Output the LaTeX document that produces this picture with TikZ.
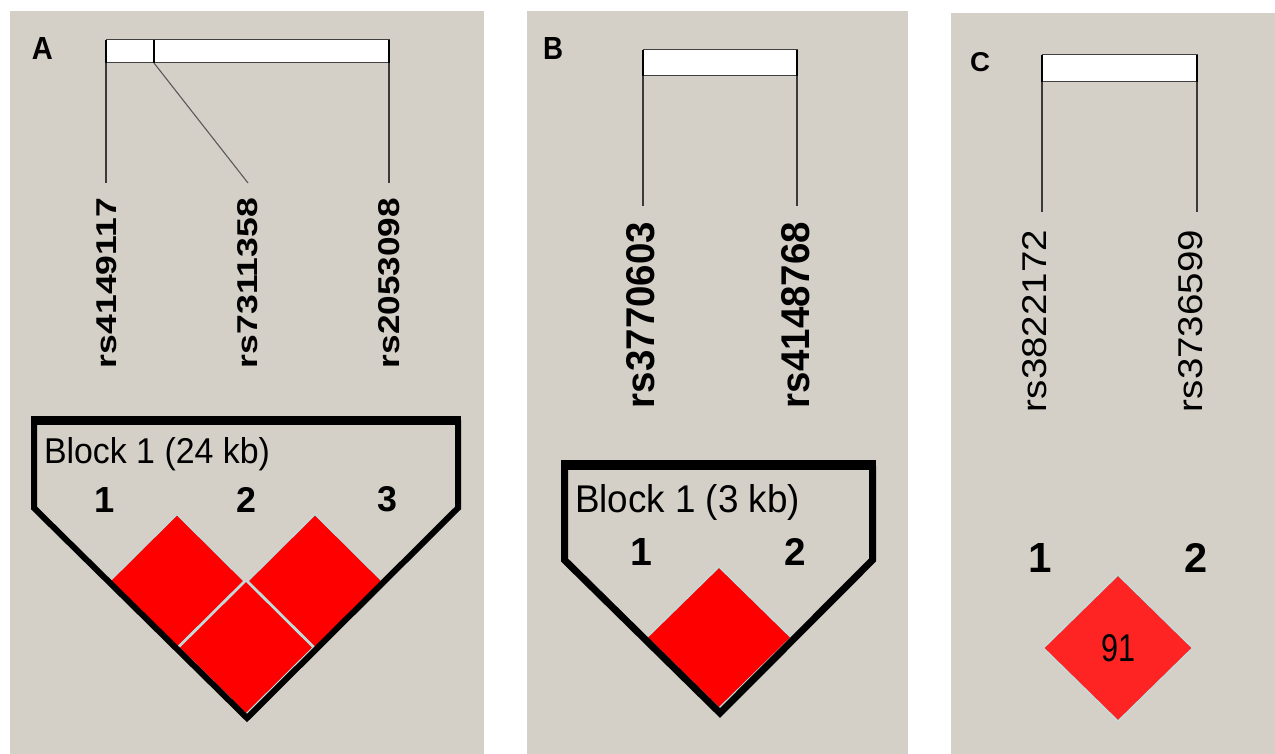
\documentclass[tikz,border=0pt]{standalone}
\usepackage{fontspec}
\setmainfont{Liberation Sans}
\usepackage{graphicx}
\usetikzlibrary{shapes.geometric}

\definecolor{panel}{HTML}{D4D0C8}
\definecolor{sepcol}{HTML}{B8E6E6}
\definecolor{ldred}{HTML}{FF0000}
\definecolor{ldredC}{HTML}{FF2424}
\definecolor{tickcol}{HTML}{3A3A3A}

\newcommand{\fitbox}[3]{\resizebox{#1pt}{#2pt}{#3}}
\newcommand{\fith}[2]{\resizebox{!}{#1pt}{#2}}

\tikzset{
  panelbg/.style={fill=panel, draw=none},
  lbl/.style={inner sep=0pt, outer sep=0pt},
  snp/.style={lbl, rotate=90},
  tick/.style={draw=tickcol, line width=1.2pt},
  slant/.style={draw=black!65, line width=1.1pt},
  barbox/.style={fill=white, draw=black!75, line width=1pt},
  barend/.style={draw=black, line width=2.6pt},
  blockline/.style={draw=black, line width=6pt, line join=miter},
  blocktop/.style={draw=black, line width=8.5pt},
  ldbox/.style={shape=diamond, inner sep=0pt, fill=ldred, draw=sepcol, line width=1pt},
}

\begin{document}
\begin{tikzpicture}[x=1pt, y=-1pt]
\useasboundingbox (0,0) rectangle (1275,754);
\fill[white] (0,0) rectangle (1275,754);

% ---------- panels ----------
\fill[panelbg] (10,11) rectangle (484,754);
\fill[panelbg] (527,11) rectangle (908,754);
\fill[panelbg] (951,13) rectangle (1275,754);

% ---------- panel letters ----------
\node[lbl] (pA) at (42.5,49) {\fitbox{21}{22}{\bfseries A}};
\node[lbl] (pB) at (553,49) {\fitbox{20}{22}{\bfseries B}};
\node[lbl] (pC) at (980,62.5) {\fitbox{20}{19}{\bfseries C}};

% ================= Panel A =================
\fill[barbox] (106,40) rectangle (389,63);
\draw[barend] (106,40) -- (106,63);
\draw[barend] (154,40) -- (154,63);
\draw[barend] (389,40) -- (389,63);
\coordinate (a1top) at (106,63);
\coordinate (a2top) at (154,63);
\coordinate (a3top) at (389,63);
\coordinate (a1end) at (106,183);
\coordinate (a2end) at (248,183);
\coordinate (a3end) at (389,183);
\draw[tick] (a1top) -- (a1end);
\draw[slant] (a2top) -- (a2end);
\draw[tick] (a3top) -- (a3end);

\node[snp] (la1) at (107,283) {\fitbox{170}{20}{\bfseries rs4149117}};
\node[snp] (la2) at (247.5,283) {\fitbox{170}{20}{\bfseries rs7311358}};
\node[snp] (la3) at (389,283) {\fitbox{170}{21}{\bfseries rs2053098}};

% LD diamonds
\node[ldbox, minimum width=134pt, minimum height=133pt] (dA12) at (177,581) {};
\node[ldbox, minimum width=134pt, minimum height=133pt] (dA23) at (315,581) {};
\node[ldbox, minimum width=134pt, minimum height=133pt] (dA13) at (246,647.5) {};

% block outline
\draw[blockline] (34,420) -- (34,508) -- (247,718) -- (458,508) -- (458,420);
\draw[blocktop] (31,420.5) -- (461,420.5);

\node[lbl, anchor=base west] (blkA) at (44,463) {\fitbox{226}{26}{Block 1 (24 kb)}};
\node[lbl] (nA1) at (105,499.5) {\fith{25}{\bfseries 1}};
\node[lbl] (nA2) at (246,499.5) {\fith{25}{\bfseries 2}};
\node[lbl] (nA3) at (387.5,499.5) {\fith{25}{\bfseries 3}};

% ================= Panel B =================
\fill[barbox] (643,50) rectangle (797,76);
\draw[barend] (643,50) -- (643,76);
\draw[barend] (797,50) -- (797,76);
\coordinate (b1top) at (643,76);
\coordinate (b2top) at (797,76);
\coordinate (b1end) at (643,206);
\coordinate (b2end) at (797,206);
\draw[tick] (b1top) -- (b1end);
\draw[tick] (b2top) -- (b2end);

\node[snp] (lb1) at (641,315) {\fitbox{186}{28}{\bfseries rs3770603}};
\node[snp] (lb2) at (796,315) {\fitbox{186}{28}{\bfseries rs4148768}};

\node[ldbox, minimum width=144pt, minimum height=141pt] (dB12) at (719,637.5) {};

\draw[blockline, line width=7pt] (564.5,466) -- (564.5,560) -- (720,713) -- (872.5,560) -- (872.5,466);
\draw[blocktop, line width=10pt] (561,465) -- (876,465);

\node[lbl, anchor=base west] (blkB) at (575,512) {\fitbox{225}{28}{Block 1 (3 kb)}};
\node[lbl] (nB1) at (641,551.5) {\fith{27}{\bfseries 1}};
\node[lbl] (nB2) at (795,551.5) {\fith{27}{\bfseries 2}};

% ================= Panel C =================
\fill[barbox] (1042,55) rectangle (1197,82);
\draw[barend] (1042,55) -- (1042,82);
\draw[barend] (1197,55) -- (1197,82);
\coordinate (c1top) at (1042,82);
\coordinate (c2top) at (1197,82);
\coordinate (c1end) at (1042,212);
\coordinate (c2end) at (1197,212);
\draw[tick] (c1top) -- (c1end);
\draw[tick] (c2top) -- (c2end);

\node[snp] (lc1) at (1035,321) {\fitbox{182}{24}{rs3822172}};
\node[snp] (lc2) at (1190.5,321) {\fitbox{182}{24}{rs3736599}};

\node[lbl] (nC1) at (1040.5,558) {\fith{29}{\bfseries 1}};
\node[lbl] (nC2) at (1196,558) {\fith{29}{\bfseries 2}};

\node[ldbox, fill=ldredC, minimum width=149pt, minimum height=146pt] (dC12) at (1118,648) {\fitbox{34}{27}{91}};

\end{tikzpicture}
\end{document}
